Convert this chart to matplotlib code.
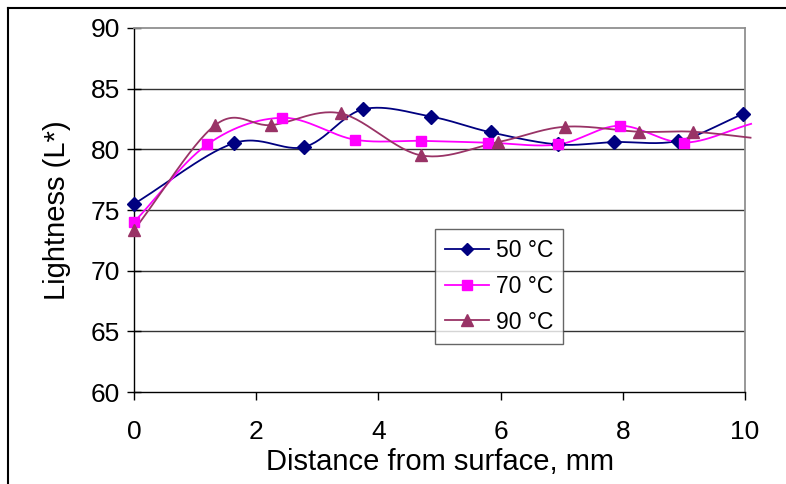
import numpy as np
import matplotlib
matplotlib.use("Agg")
import matplotlib.pyplot as plt
from matplotlib.lines import Line2D

plt.rcParams['font.family'] = ['Liberation Sans', 'DejaVu Sans']

# values
x50 = [0, 1.63, 2.79, 3.75, 4.86, 5.84, 6.94, 7.86, 8.91, 9.96]
y50 = [75.5, 80.5, 80.2, 83.3, 82.7, 81.4, 80.4, 80.6, 80.7, 82.9]
x70 = [0, 1.2, 2.42, 3.61, 4.7, 5.8, 6.94, 7.95, 9.0, 10.1]
y70 = [74.0, 80.4, 82.6, 80.8, 80.7, 80.55, 80.4, 81.95, 80.55, 82.1]
x90 = [0, 1.33, 2.25, 3.38, 4.7, 5.96, 7.05, 8.27, 9.15, 10.2]
y90 = [73.35, 82.0, 82.0, 82.97, 79.5, 80.6, 81.86, 81.45, 81.45, 80.9]
labels = ["50 °C", "70 °C", "90 °C"]


def smooth(x, y, n=30):
    # Catmull-Rom curve through the points (like Excel's smoothed line)
    x = np.asarray(x, float)
    y = np.asarray(y, float)
    px = np.concatenate([[2 * x[0] - x[1]], x, [2 * x[-1] - x[-2]]])
    py = np.concatenate([[2 * y[0] - y[1]], y, [2 * y[-1] - y[-2]]])
    xs, ys = [], []
    t = np.linspace(0, 1, n)
    for i in range(1, len(px) - 2):
        b1x = px[i] + (px[i + 1] - px[i - 1]) / 6
        b1y = py[i] + (py[i + 1] - py[i - 1]) / 6
        b2x = px[i + 1] - (px[i + 2] - px[i]) / 6
        b2y = py[i + 1] - (py[i + 2] - py[i]) / 6
        a, b, c, d = (1 - t) ** 3, 3 * (1 - t) ** 2 * t, 3 * (1 - t) * t ** 2, t ** 3
        xs.append(a * px[i] + b * b1x + c * b2x + d * px[i + 1])
        ys.append(a * py[i] + b * b1y + c * b2y + d * py[i + 1])
    return np.concatenate(xs), np.concatenate(ys)


fig = plt.figure(figsize=(7.86, 4.84), dpi=100)
ax = fig.add_axes([134 / 786, 1 - 392 / 484, (745 - 134) / 786, (392 - 28) / 484])

series = [
    (x50, y50, "#000080", "D", 7),
    (x70, y70, "#FF00FF", "s", 7.5),
    (x90, y90, "#993366", "^", 9),
]
handles = []
for (xs, ys, col, mk, ms), lab in zip(series, labels):
    sx, sy = smooth(xs, ys)
    keep = sx <= 10.1
    ax.plot(sx[keep], sy[keep], color=col, lw=1.3, clip_on=False, zorder=3)
    inside = [i for i, v in enumerate(xs) if v <= 10]
    ax.plot([xs[i] for i in inside], [ys[i] for i in inside], ls="none",
            marker=mk, color=col, ms=ms, clip_on=False, zorder=4)
    handles.append(Line2D([], [], color=col, lw=1.3, marker=mk, ms=ms * 0.9, label=lab))

ax.set_xlim(0, 10)
ax.set_ylim(60, 90)
ax.set_xticks(range(0, 11, 2))
ax.set_yticks(range(60, 91, 5))
for v in range(65, 90, 5):
    ax.axhline(v, color="#333333", lw=1.0, zorder=1)

for s in ["top", "right"]:
    ax.spines[s].set_color("#909090")
    ax.spines[s].set_linewidth(1.3)
for s in ["left", "bottom"]:
    ax.spines[s].set_color("black")
    ax.spines[s].set_linewidth(1.0)

ax.tick_params(axis="y", direction="inout", length=10, width=1, labelsize=19, pad=5)
ax.tick_params(axis="x", direction="out", length=6, width=1, labelsize=19, pad=14)
ax.set_xlabel("Distance from surface, mm", fontsize=21, labelpad=3)
ax.set_ylabel("Lightness (L*)", fontsize=21, labelpad=14)

leg = ax.legend(handles=handles, loc="upper left", bbox_to_anchor=((435 - 134) / 611, (392 - 229) / 364),
                fontsize=16.5, frameon=True, fancybox=False, edgecolor="#404040",
                handlelength=1.9, handletextpad=0.3, borderpad=0.45, labelspacing=0.55,
                borderaxespad=0)
leg.get_frame().set_linewidth(1.0)

# outer frame of the chart area
fig.add_artist(Line2D([8 / 786, 1], [1 - 8 / 484, 1 - 8 / 484], color="black", lw=1.5))
fig.add_artist(Line2D([8 / 786, 8 / 786], [0, 1 - 8 / 484], color="black", lw=1.5))

fig.savefig("out.png", dpi=100)
